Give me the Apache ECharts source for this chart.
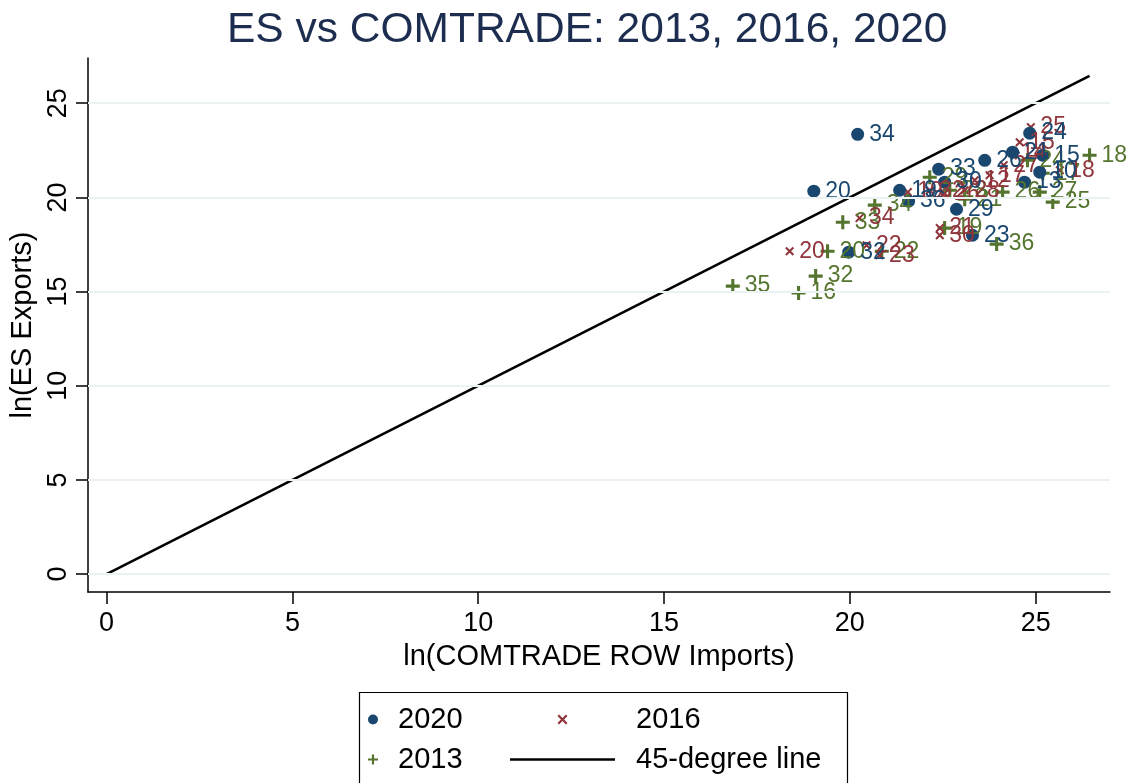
<!DOCTYPE html>
<html>
<head>
<meta charset="utf-8">
<script src="https://cdn.jsdelivr.net/npm/echarts@6/dist/echarts.min.js"></script>
<style>html,body{margin:0;padding:0;background:#fff}#c{width:1133px;height:783px}</style>
</head>
<body>
<div id="c"></div>
<script>
// Data: [ln(COMTRADE ROW imports), ln(ES exports), label]
const pts2020 = [
  [20.21, 23.35, '34'], [19.03, 20.33, '20'], [21.34, 20.38, '19'], [21.58, 19.80, '36'],
  [19.97, 17.09, '32'], [22.87, 19.37, '29'], [23.30, 17.99, '23'], [22.39, 21.50, '33'],
  [22.55, 20.81, '30'], [23.63, 21.97, '26'], [24.38, 22.40, '21'], [24.84, 23.41, '24'],
  [25.19, 22.24, '15'], [25.11, 21.34, '10'], [24.70, 20.81, '13']
];
const pts2016 = [
  [18.38, 17.14, '20'], [20.26, 18.90, '34'], [20.45, 17.46, '22'], [20.80, 16.93, '23'],
  [21.56, 20.28, '19'], [22.15, 20.38, '32'], [22.55, 20.22, '26'], [23.09, 20.38, '28'],
  [22.42, 18.37, '21'], [22.42, 17.99, '30'], [23.36, 20.91, '12'], [23.76, 21.18, '17'],
  [24.14, 21.71, '27'], [24.35, 22.40, '14'], [24.57, 22.93, '15'], [24.87, 23.73, '25'],
  [25.65, 21.44, '18']
];
const pts2013 = [
  [16.85, 15.29, '35'], [18.62, 14.92, '16'], [19.08, 15.82, '32'], [19.40, 17.14, '20'],
  [20.86, 17.14, '22'], [19.81, 18.68, '33'], [20.67, 19.59, '34'], [26.45, 22.24, '18'],
  [23.95, 17.52, '36'], [25.46, 19.75, '25'], [25.11, 20.28, '27'], [22.15, 21.07, '29'],
  [22.69, 20.38, '28'], [23.09, 19.90, '21'], [22.55, 18.37, '19'], [24.11, 20.28, '26'],
  [24.78, 21.97, '24'], [25.19, 21.28, '17']
];
const xTicks = [0, 5, 10, 15, 20, 25];
const yTicks = [0, 5, 10, 15, 20, 25];

const maxX = Math.max(...pts2020.concat(pts2016, pts2013).map(p => p[0]));
const diag = [[0, 0], [maxX, maxX]];

const C2020 = '#1a476f', C2016 = '#90353b', C2013 = '#55752f';
const FONT = '"Liberation Sans", Arial, Helvetica, sans-serif';
const PLUS = 'path://M3.9,0H6.1V3.9H10V6.1H6.1V10H3.9V6.1H0V3.9H3.9Z';
const CROSS = 'path://M0,1.6L1.6,0L5,3.4L8.4,0L10,1.6L6.6,5L10,8.4L8.4,10L5,6.6L1.6,10L0,8.4L3.4,5Z';
const LINEICON = 'path://M0,0H105V2.6H0Z';

function scat(name, pts, color, symbol, size) {
  return {
    name: name, type: 'scatter', data: pts, symbol: symbol, symbolSize: size, z: 3,
    itemStyle: { color: color, opacity: 1 },
    label: { show: true, position: 'right', distance: 5, formatter: p => p.data[2],
      color: color, fontSize: 23, fontFamily: FONT },
    emphasis: { disabled: true }
  };
}

const chart = echarts.init(document.getElementById('c'), null, { renderer: 'canvas' });
chart.setOption({
  backgroundColor: '#ffffff',
  animation: false,
  title: { text: 'ES vs COMTRADE: 2013, 2016, 2020', left: 222, top: 4,
    textStyle: { color: '#1c2d4f', fontSize: 42.5, fontWeight: 'normal', fontFamily: FONT } },
  grid: { left: 88, right: 23, top: 58, bottom: 191, containLabel: false },
  xAxis: {
    type: 'value', min: -0.5, max: 27,
    name: 'ln(COMTRADE ROW Imports)', nameLocation: 'middle', nameGap: 50,
    nameTextStyle: { color: '#000', fontSize: 29, fontFamily: FONT },
    axisLine: { show: true, onZero: false, lineStyle: { color: '#000', width: 1.5 } },
    axisTick: { show: true, length: 12, customValues: xTicks, lineStyle: { color: '#000', width: 1.5 } },
    axisLabel: { customValues: xTicks, margin: 18, color: '#000', fontSize: 27, fontFamily: FONT },
    splitLine: { show: false }
  },
  yAxis: {
    type: 'value', min: -0.95, max: 27.4,
    name: 'ln(ES Exports)', nameLocation: 'middle', nameGap: 48, nameRotate: 90,
    nameTextStyle: { color: '#000', fontSize: 29, fontFamily: FONT },
    axisLine: { show: true, onZero: false, lineStyle: { color: '#000', width: 1.5 } },
    axisTick: { show: true, length: 12, customValues: yTicks, lineStyle: { color: '#000', width: 1.5 } },
    axisLabel: { customValues: yTicks, rotate: 90, margin: 16, color: '#000', fontSize: 27, fontFamily: FONT },
    splitLine: { show: false }
  },
  legend: [
    { orient: 'vertical', left: 363, top: 700, itemGap: 11, itemWidth: 10, itemHeight: 10,
      data: ['2020', '2013'], selectedMode: false,
      textStyle: { color: '#000', fontSize: 29, fontFamily: FONT, padding: [0, 0, 0, 15] } },
    { orient: 'vertical', left: 505, top: 700, itemGap: 11, itemWidth: 105, itemHeight: 10,
      data: ['2016', { name: '45-degree line', icon: LINEICON }], selectedMode: false,
      textStyle: { color: '#000', fontSize: 29, fontFamily: FONT, padding: [0, 0, 0, 16] } }
  ],
  graphic: [
    { type: 'rect', left: 357, top: 690, shape: { width: 488, height: 110 },
      style: { fill: 'none', stroke: '#000', lineWidth: 1.2 }, silent: true }
  ],
  series: [
    { name: 'grid', type: 'scatter', data: [], z: 0, silent: true,
      markLine: { silent: true, symbol: 'none', label: { show: false },
        lineStyle: { color: '#eaf2f3', width: 2, type: 'solid' },
        data: yTicks.map(v => ({ yAxis: v })) } },
    { name: '45-degree line', type: 'line', data: diag, showSymbol: false, symbol: 'none', z: 2,
      lineStyle: { color: '#000', width: 2.6 }, itemStyle: { color: '#000' }, emphasis: { disabled: true } },
    scat('2013', pts2013, C2013, PLUS, 14),
    scat('2016', pts2016, C2016, CROSS, 9),
    scat('2020', pts2020, C2020, 'circle', 13)
  ]
});
</script>
</body>
</html>
